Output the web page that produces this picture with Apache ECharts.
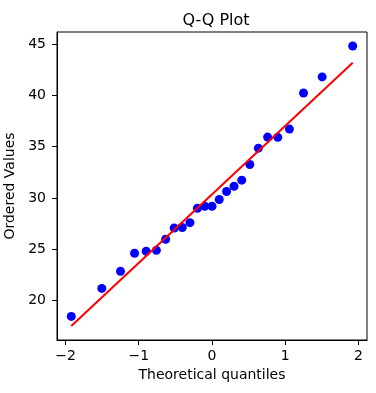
<!DOCTYPE html>
<html>
<head>
<meta charset="utf-8">
<script src="https://cdn.jsdelivr.net/npm/echarts@6/dist/echarts.min.js"></script>
<style>
  html, body { margin: 0; padding: 0; background: #fff; }
  #chart { width: 376px; height: 393px; }
</style>
</head>
<body>
<div id="chart"></div>
<script>
// theoretical normal quantiles (x) and ordered sample values (y)
var theoretical = [-1.921, -1.504, -1.249, -1.057, -0.898, -0.759, -0.633, -0.516, -0.406, -0.301, -0.199, -0.099, 0,
  0.099, 0.199, 0.301, 0.406, 0.516, 0.633, 0.759, 0.898, 1.057, 1.249, 1.504, 1.921];
var ordered = [18.45, 21.18, 22.84, 24.60, 24.80, 24.89, 25.97, 27.07, 27.11, 27.59, 28.99, 29.19, 29.19,
  29.84, 30.62, 31.14, 31.73, 33.26, 34.85, 35.93, 35.90, 36.71, 40.22, 41.79, 44.81];
var xTicks = [-2, -1, 0, 1, 2];
var yTicks = [20, 25, 30, 35, 40, 45];

(function () {
  var font = "'DejaVu Sans', sans-serif";

  // least squares fit line, like probplot does
  var n = theoretical.length, sx = 0, sy = 0, sxx = 0, sxy = 0;
  for (var i = 0; i < n; i++) {
    sx += theoretical[i]; sy += ordered[i];
    sxx += theoretical[i] * theoretical[i]; sxy += theoretical[i] * ordered[i];
  }
  var slope = (n * sxy - sx * sy) / (n * sxx - sx * sx);
  var icpt = (sy - slope * sx) / n;
  var x0 = theoretical[0], x1 = theoretical[n - 1];
  var fit = [[x0, icpt + slope * x0], [x1, icpt + slope * x1]];

  var points = theoretical.map(function (x, i) { return [x, ordered[i]]; });

  var chart = echarts.init(document.getElementById("chart"));
  chart.setOption({
    animation: false,
    backgroundColor: "#fff",
    title: {
      text: "Q-Q Plot",
      left: 211,
      top: 8,
      textAlign: "center",
      textStyle: { fontFamily: font, fontSize: 16, fontWeight: "normal", color: "#000" }
    },
    grid: {
      left: 57, right: 9, top: 32, bottom: 53,
      containLabel: false,
      outerBoundsMode: "none",
      show: true, borderColor: "#000", borderWidth: 1, backgroundColor: "#fff"
    },
    xAxis: {
      type: "value",
      min: -2.116, max: 2.116,
      name: "Theoretical quantiles",
      nameLocation: "middle",
      nameGap: 27,
      nameTextStyle: { fontFamily: font, fontSize: 14, color: "#000" },
      splitLine: { show: false },
      axisLine: { show: true, onZero: false, lineStyle: { color: "#000", width: 1 } },
      axisTick: { show: true, length: 5, customValues: xTicks, lineStyle: { color: "#000" } },
      axisLabel: {
        customValues: xTicks, margin: 9,
        fontFamily: font, fontSize: 14, color: "#000",
        formatter: function (v) { return v < 0 ? "\u2212" + Math.abs(v) : String(v); }
      }
    },
    yAxis: {
      type: "value",
      min: 16.15, max: 46.17,
      name: "Ordered Values",
      nameLocation: "middle",
      nameGap: 33,
      nameTextStyle: { fontFamily: font, fontSize: 14, color: "#000" },
      splitLine: { show: false },
      axisLine: { show: true, onZero: false, lineStyle: { color: "#000", width: 1 } },
      axisTick: { show: true, length: 5, customValues: yTicks, lineStyle: { color: "#000" } },
      axisLabel: { customValues: yTicks, margin: 11, fontFamily: font, fontSize: 14, color: "#000" }
    },
    series: [
      {
        type: "scatter",
        data: points,
        symbol: "circle",
        symbolSize: 9,
        itemStyle: { color: "#0000ff", opacity: 1 },
        z: 2
      },
      {
        type: "line",
        data: fit,
        symbol: "none",
        lineStyle: { color: "#ff0000", width: 2 },
        z: 3
      }
    ]
  });
})();
</script>
</body>
</html>
